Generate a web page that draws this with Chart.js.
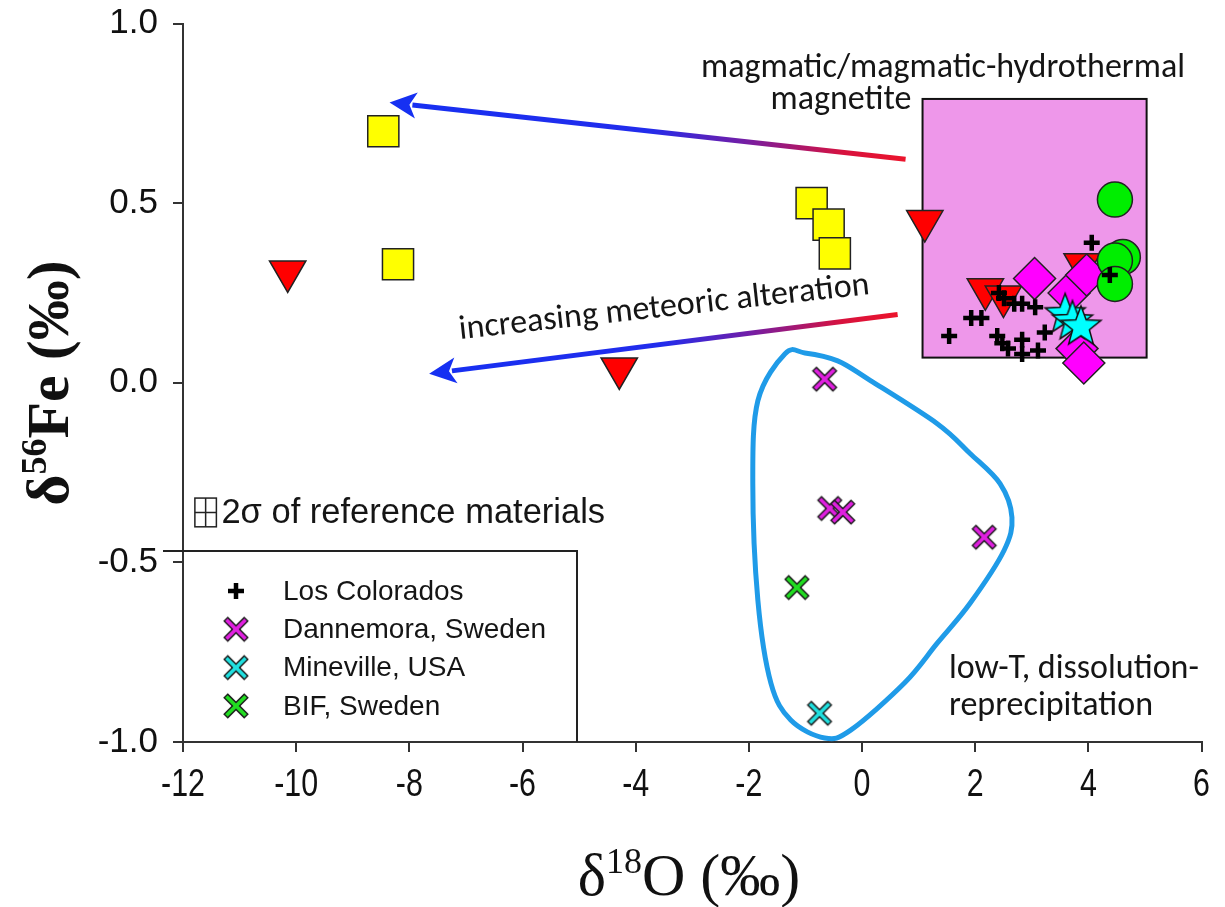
<!DOCTYPE html>
<html>
<head>
<meta charset="utf-8">
<script src="https://cdn.jsdelivr.net/npm/chart.js@4.4.1/dist/chart.umd.min.js"></script>
<style>
  html, body { margin: 0; padding: 0; background: #ffffff; }
  #wrap { width: 1225px; height: 907px; }
</style>
</head>
<body>
<div id="wrap"><canvas id="c" width="1225" height="907"></canvas></div>
<script>
// Axis ticks
const xTickValues = [-12, -10, -8, -6, -4, -2, 0, 2, 4, 6];
const yTickValues = [-1.0, -0.5, 0.0, 0.5, 1.0];

// δ18O (x) and δ56Fe (y), per mil
const losColoradosX = [1.54, 1.93, 2.11, 2.39, 2.48, 2.58, 2.83, 2.83, 3.11, 3.23, 2.51, 2.42, 2.69, 2.83, 3.06, 4.06, 4.38];
const losColoradosY = [0.13, 0.18, 0.18, 0.13, 0.11, 0.095, 0.12, 0.08, 0.09, 0.14, 0.235, 0.25, 0.22, 0.22, 0.21, 0.39, 0.30];

const dannemoraX = [-0.66, -0.57, -0.34, 2.16];
const dannemoraY = [0.01, -0.35, -0.36, -0.43];

const minevilleX = [-0.75];
const minevilleY = [-0.92];

const bifX = [-1.15];
const bifY = [-0.57];

const yellowSquareX = [-8.46, -8.20, -0.89, -0.59, -0.48];
const yellowSquareY = [0.70, 0.33, 0.50, 0.44, 0.36];

const redTriangleX = [-10.15, -4.29, 1.11, 2.18, 2.50, 3.89];
const redTriangleY = [0.31, 0.04, 0.45, 0.26, 0.24, 0.33];

const magentaDiamondX = [3.05, 3.66, 3.97, 3.80, 3.92];
const magentaDiamondY = [0.29, 0.25, 0.30, 0.095, 0.055];

const greenCircleX = [4.47, 4.61, 4.47, 4.47];
const greenCircleY = [0.51, 0.35, 0.34, 0.275];

const cyanStarX = [3.59, 3.72, 3.87];
const cyanStarY = [0.195, 0.175, 0.16];

// Magmatic / magmatic-hydrothermal field (x range, y range)
const magmaticFieldX = [1.07, 5.03];
const magmaticFieldY = [0.07, 0.79];

// Low-T dissolution-reprecipitation envelope
const lowTLoopX = [-1.01, -0.43, 0.15, 1.33, 1.91, 2.44, 2.65, 2.51, 1.91, 1.33, 0.75, -0.20, -0.66, -1.26, -1.61, -1.84, -1.93, -1.84, -1.36];
const lowTLoopY = [0.083, 0.061, 0.006, -0.114, -0.197, -0.281, -0.375, -0.467, -0.614, -0.725, -0.836, -0.967, -0.989, -0.939, -0.836, -0.606, -0.28, -0.05, 0.081];

// Meteoric alteration arrows: [tailX, tailY, tipX, tipY]
const alterationArrowUpper = [0.77, 0.622, -8.35, 0.78];
const alterationArrowLower = [0.63, 0.19, -7.65, 0.025];

// 2σ reference box: centre and half widths
const refSigmaCenter = [-11.60, -0.361];
const refSigmaHalf = [0.19, 0.04];

function xMarker(fill) {
  const s = 30, c = document.createElement('canvas');
  c.width = s; c.height = s;
  const g = c.getContext('2d');
  const m = s / 2;
  const seg = (a, w, col) => {
    g.strokeStyle = col; g.lineWidth = w; g.lineCap = 'butt';
    g.beginPath(); g.moveTo(m - a, m - a); g.lineTo(m + a, m + a); g.stroke();
    g.beginPath(); g.moveTo(m + a, m - a); g.lineTo(m - a, m + a); g.stroke();
  };
  seg(10.5, 6.5, '#1a1a1a');
  seg(9.6, 3.6, fill);
  return c;
}

function starMarker(fill, R) {
  const s = Math.ceil(2 * R + 6), c = document.createElement('canvas');
  c.width = s; c.height = s;
  const g = c.getContext('2d');
  const r = R * 0.42;
  g.translate(s / 2, s / 2 + R * 0.08);
  g.beginPath();
  for (let i = 0; i < 10; i++) {
    const rad = i % 2 === 0 ? R : r;
    const a = -Math.PI / 2 + i * Math.PI / 5;
    const px = Math.cos(a) * rad, py = Math.sin(a) * rad;
    if (i === 0) g.moveTo(px, py); else g.lineTo(px, py);
  }
  g.closePath();
  g.fillStyle = fill; g.fill();
  g.strokeStyle = '#111'; g.lineWidth = 1.5; g.stroke();
  return c;
}

const xsDannemora = xMarker('#e020e0');
const xsMineville = xMarker('#20e0e0');
const xsBif = xMarker('#22dd22');
const starImg = starMarker('#00ffff', 21);

const pts = (xs, ys) => xs.map((x, i) => ({ x: x, y: ys[i] }));

const TEXT_FONT = '"Carlito", "Lato", "Open Sans", sans-serif';
const ARIAL = '"Liberation Sans", Arial, sans-serif';
const SERIF = '"Liberation Serif", "Times New Roman", serif';

function drawClosedCurve(g, p) {
  const n = p.length;
  g.beginPath();
  g.moveTo(p[0][0], p[0][1]);
  for (let i = 0; i < n; i++) {
    const p0 = p[(i - 1 + n) % n], p1 = p[i], p2 = p[(i + 1) % n], p3 = p[(i + 2) % n];
    g.bezierCurveTo(
      p1[0] + (p2[0] - p0[0]) / 6, p1[1] + (p2[1] - p0[1]) / 6,
      p2[0] - (p3[0] - p1[0]) / 6, p2[1] - (p3[1] - p1[1]) / 6,
      p2[0], p2[1]);
  }
  g.closePath();
  g.stroke();
}

function drawArrow(g, sx, sy, tx, ty) {
  const grad = g.createLinearGradient(sx, sy, tx, ty);
  grad.addColorStop(0.0, 'rgb(236,20,44)');
  grad.addColorStop(0.12, 'rgb(215,18,62)');
  grad.addColorStop(0.32, 'rgb(112,30,168)');
  grad.addColorStop(0.5, 'rgb(34,44,236)');
  grad.addColorStop(1.0, 'rgb(22,48,242)');
  const ang = Math.atan2(ty - sy, tx - sx);
  const headLen = 27, headHalf = 13;
  const bx = tx - Math.cos(ang) * (headLen - 4), by = ty - Math.sin(ang) * (headLen - 4);
  g.save();
  g.strokeStyle = grad; g.lineWidth = 5; g.lineCap = 'butt';
  g.beginPath(); g.moveTo(sx, sy); g.lineTo(bx, by); g.stroke();
  g.fillStyle = 'rgb(22,48,242)';
  const hx = tx - Math.cos(ang) * headLen, hy = ty - Math.sin(ang) * headLen;
  g.beginPath();
  g.moveTo(tx, ty);
  g.lineTo(hx + Math.sin(ang) * headHalf, hy - Math.cos(ang) * headHalf);
  g.lineTo(tx - Math.cos(ang) * (headLen - 7), ty - Math.sin(ang) * (headLen - 7));
  g.lineTo(hx - Math.sin(ang) * headHalf, hy + Math.cos(ang) * headHalf);
  g.closePath();
  g.fill();
  g.restore();
}

// Title with a raised isotope mass number, e.g. δ + "18" + "O (‰)"
function drawIsotopeTitle(g, pre, sup, post, size, weight, cx, baseline) {
  const big = `${weight} ${size}px ${SERIF}`;
  const small = `${weight} ${Math.round(size * 0.6)}px ${SERIF}`;
  g.font = big; const w1 = g.measureText(pre).width; const w3 = g.measureText(post).width;
  g.font = small; const w2 = g.measureText(sup).width;
  let x = cx - (w1 + w2 + w3) / 2;
  g.textAlign = 'left'; g.textBaseline = 'alphabetic'; g.fillStyle = '#111';
  g.font = big; g.fillText(pre, x, baseline); x += w1;
  g.font = small; g.fillText(sup, x, baseline - size * 0.36); x += w2;
  g.font = big; g.fillText(post, x, baseline);
}

const annotationPlugin = {
  id: 'isotopeAnnotations',
  beforeDatasetsDraw(chart) {
    const g = chart.ctx, sx = chart.scales.x, sy = chart.scales.y;
    const X = v => sx.getPixelForValue(v), Y = v => sy.getPixelForValue(v);
    g.save();
    // magmatic field
    const l = X(magmaticFieldX[0]), r = X(magmaticFieldX[1]);
    const t = Y(magmaticFieldY[1]), b = Y(magmaticFieldY[0]);
    g.fillStyle = '#ee97ea';
    g.fillRect(l, t, r - l, b - t);
    g.strokeStyle = '#111'; g.lineWidth = 2;
    g.strokeRect(l, t, r - l, b - t);
    // low-T envelope
    g.strokeStyle = '#1f9be8'; g.lineWidth = 5; g.lineJoin = 'round';
    drawClosedCurve(g, lowTLoopX.map((v, i) => [X(v), Y(lowTLoopY[i])]));
    // alteration arrows
    [alterationArrowUpper, alterationArrowLower].forEach(a => {
      drawArrow(g, X(a[0]), Y(a[1]), X(a[2]), Y(a[3]));
    });
    g.restore();
  },
  afterDraw(chart) {
    const g = chart.ctx, sx = chart.scales.x, sy = chart.scales.y;
    const X = v => sx.getPixelForValue(v), Y = v => sy.getPixelForValue(v);
    const area = chart.chartArea;
    g.save();

    // x tick labels, in a narrow setting
    g.fillStyle = '#111';
    g.font = `38px ${ARIAL}`;
    g.textAlign = 'center';
    g.textBaseline = 'alphabetic';
    xTickValues.forEach(v => {
      g.save();
      g.translate(X(v), 796);
      g.scale(0.8, 1);
      g.fillText(String(v), 0, 0);
      g.restore();
    });

    g.fillStyle = '#151515';

    // field labels
    g.font = `34px ${TEXT_FONT}`;
    g.textAlign = 'center';
    g.fillText('magmatic/magmatic-hydrothermal', 943, 77);
    g.fillText('magnetite', 841, 109);
    g.textAlign = 'left';
    g.fillText('low-T, dissolution-', 949, 678);
    g.fillText('reprecipitation', 949, 715);

    g.save();
    g.translate(460, 339);
    g.rotate(Math.atan2(-45, 410));
    g.font = `34px ${TEXT_FONT}`;
    g.fillText('increasing meteoric alteration', 0, 0);
    g.restore();

    // 2σ reference symbol
    const cx = X(refSigmaCenter[0]), cy = Y(refSigmaCenter[1]);
    const hx = X(refSigmaCenter[0] + refSigmaHalf[0]) - cx;
    const hy = cy - Y(refSigmaCenter[1] + refSigmaHalf[1]);
    g.strokeStyle = '#222'; g.lineWidth = 1.5;
    g.strokeRect(cx - hx, cy - hy, 2 * hx, 2 * hy);
    g.beginPath();
    g.moveTo(cx, cy - hy); g.lineTo(cx, cy + hy);
    g.moveTo(cx - hx, cy); g.lineTo(cx + hx, cy);
    g.stroke();
    g.font = `34.5px ${ARIAL}`;
    g.fillStyle = '#151515';
    g.fillText('2σ of reference materials', cx + hx + 5, 523);

    // legend box
    const lx0 = area.left, lx1 = 577, ly0 = 551, ly1 = area.bottom;
    g.fillStyle = '#ffffff';
    g.fillRect(lx0 + 1, ly0, lx1 - lx0 - 1, ly1 - ly0 - 1);
    g.strokeStyle = '#222'; g.lineWidth = 2;
    g.beginPath();
    g.moveTo(163, ly0); g.lineTo(lx1, ly0); g.lineTo(lx1, ly1);
    g.stroke();

    const entries = chart.data.datasets.filter(d => d.inLegend);
    g.font = `28px ${ARIAL}`;
    g.textBaseline = 'middle';
    entries.forEach((d, i) => {
      const yy = 591 + i * 38.3;
      if (d.pointStyle === 'cross') {
        g.strokeStyle = '#000'; g.lineWidth = 4.5;
        g.beginPath();
        g.moveTo(236 - 8, yy); g.lineTo(236 + 8, yy);
        g.moveTo(236, yy - 8); g.lineTo(236, yy + 8);
        g.stroke();
      } else {
        const img = d.pointStyle;
        g.drawImage(img, 236 - img.width / 2, yy - img.height / 2);
      }
      g.fillStyle = '#151515';
      g.fillText(d.label, 283, yy + 1);
    });

    // axis titles
    drawIsotopeTitle(g, 'δ', '18', 'O (‰)', 60, 'normal', 689, 895);
    g.save();
    g.translate(68, 383);
    g.rotate(-Math.PI / 2);
    drawIsotopeTitle(g, 'δ', '56', 'Fe (‰)', 60, 'bold', 0, 0);
    g.restore();

    g.restore();
  }
};

const axisColor = '#333333';
const noOverhang = s => { s.paddingTop = 0; s.paddingBottom = 0; s.paddingLeft = 0; s.paddingRight = 0; };

new Chart(document.getElementById('c'), {
  type: 'scatter',
  data: {
    datasets: [
      { label: 'Los Colorados', inLegend: true, order: 1, data: pts(losColoradosX, losColoradosY),
        pointStyle: 'cross', pointRadius: 8, borderColor: '#000', borderWidth: 4.5, backgroundColor: '#000' },
      { label: 'Dannemora, Sweden', inLegend: true, order: 0, data: pts(dannemoraX, dannemoraY),
        pointStyle: xsDannemora, pointRadius: 12 },
      { label: 'Mineville, USA', inLegend: true, order: 0, data: pts(minevilleX, minevilleY),
        pointStyle: xsMineville, pointRadius: 12 },
      { label: 'BIF, Sweden', inLegend: true, order: 0, data: pts(bifX, bifY),
        pointStyle: xsBif, pointRadius: 12 },
      { label: 'yellow squares', order: 6, data: pts(yellowSquareX, yellowSquareY),
        pointStyle: 'rect', pointRadius: 22, backgroundColor: '#ffff00', borderColor: '#222', borderWidth: 1.5 },
      { label: 'red triangles', order: 5, data: pts(redTriangleX, redTriangleY),
        pointStyle: 'triangle', rotation: 180, pointRadius: 21, backgroundColor: '#ff0000', borderColor: '#222', borderWidth: 1.5 },
      { label: 'magenta diamonds', order: 4, data: pts(magentaDiamondX, magentaDiamondY),
        pointStyle: 'rectRot', pointRadius: 21, backgroundColor: '#ff00ff', borderColor: '#222', borderWidth: 1.5 },
      { label: 'green circles', order: 3, data: pts(greenCircleX, greenCircleY),
        pointStyle: 'circle', pointRadius: 17.5, backgroundColor: '#00ee00', borderColor: '#222', borderWidth: 1.5 },
      { label: 'cyan stars', order: 2, data: pts(cyanStarX, cyanStarY),
        pointStyle: starImg, pointRadius: 20 }
    ]
  },
  options: {
    responsive: false,
    animation: false,
    devicePixelRatio: 1,
    layout: { padding: { left: 0, top: 22, right: 20, bottom: 0 } },
    plugins: { legend: { display: false }, tooltip: { enabled: false } },
    scales: {
      x: {
        type: 'linear', position: 'bottom', min: -12, max: 6,
        afterBuildTicks: s => { s.ticks = xTickValues.map(v => ({ value: v })); },
        afterFit: s => { s.height = 165; noOverhang(s); },
        border: { display: true, color: axisColor, width: 2 },
        grid: { drawOnChartArea: false, drawTicks: true, tickLength: 10, color: axisColor, lineWidth: 2 },
        ticks: { display: false }
      },
      y: {
        type: 'linear', position: 'left', min: -1, max: 1,
        afterBuildTicks: s => { s.ticks = yTickValues.map(v => ({ value: v })); },
        afterFit: s => { s.width = 183; noOverhang(s); },
        border: { display: true, color: axisColor, width: 2 },
        grid: { drawOnChartArea: false, drawTicks: true, tickLength: 10, color: axisColor, lineWidth: 2 },
        ticks: { color: '#111', padding: 15, autoSkip: false,
          font: { family: '"Liberation Sans", Arial, sans-serif', size: 35 },
          callback: v => Number(v).toFixed(1) }
      }
    }
  },
  plugins: [annotationPlugin]
});
</script>
</body>
</html>
